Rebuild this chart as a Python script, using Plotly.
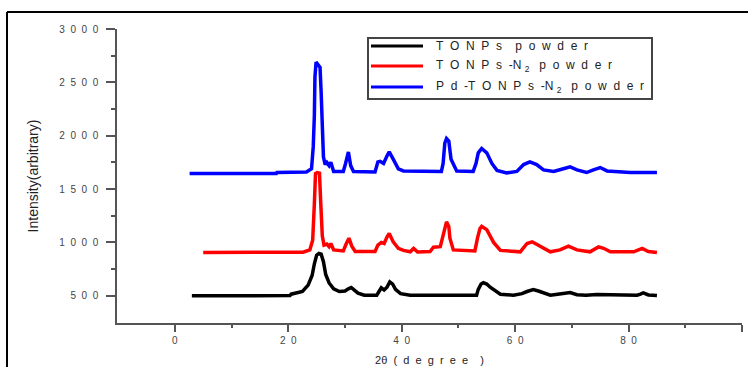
import plotly.graph_objects as go

# ---------------- data ----------------
black_x = [3, 13, 20.3, 20.5, 22.5, 23.5, 24.2, 24.6, 25.0, 25.4, 25.8, 26.2, 26.6, 27.2, 28.0, 29.0,
           30.0, 30.6, 31.1, 31.6, 32.3, 33.4, 35.6, 36.0, 36.4, 36.9, 37.4, 37.9, 38.4, 38.9, 39.8,
           41.5, 53.2, 53.5, 54.0, 54.4, 55.0, 55.6, 56.5, 57.4, 59.7, 61.2, 62.1, 63.2, 64.1, 65.0,
           66.2, 67.5, 68.5, 69.7, 70.9, 72.5, 74.4, 76.4, 77.0, 81.5, 82.1, 82.6, 83.5, 85.0]
black_y = [500, 500, 502, 515, 540, 600, 690, 800, 880, 897, 890, 820, 700, 620, 565, 540,
           545, 565, 578, 555, 525, 505, 505, 540, 575, 555, 580, 630, 610, 560, 520,
           505, 505, 560, 610, 622, 610, 580, 545, 515, 505, 520, 540, 558, 545, 525,
           505, 515, 525, 530, 510, 505, 512, 512, 505, 505, 515, 528, 508, 503]

red_x = [5, 22.6, 23.8, 24.3, 24.6, 24.8, 25.1, 25.5, 25.7, 26.0, 26.3, 26.8, 27.2, 27.5, 28.0,
         29.7, 30.2, 30.7, 31.2, 31.8, 35.3, 35.8, 36.4, 36.9, 37.4, 37.8, 38.5, 39.4, 40.3, 41.5,
         42.1, 42.8, 45.0, 45.6, 46.8, 47.4, 47.9, 48.3, 48.5, 49.1, 52.9, 53.4, 53.8, 54.1, 55.0,
         56.2, 57.4, 60.9, 62.1, 63.0, 64.5, 66.2, 67.9, 69.4, 70.9, 73.2, 74.7, 75.6, 76.8, 80.9,
         82.4, 83.5, 85.0]
red_y = [906, 908, 930, 1020, 1365, 1646, 1655, 1650, 1396, 1060, 975, 985, 960, 990, 930,
         920, 985, 1040, 965, 915, 915, 975, 1000, 990, 1050, 1084, 1005, 945, 925, 912,
         944, 910, 915, 955, 960, 1090, 1193, 1150, 1040, 930, 920, 1050, 1130, 1150, 1120,
         1000, 925, 912, 990, 1006, 960, 912, 930, 965, 930, 912, 958, 945, 912, 912,
         944, 915, 905]

blue_x = [2.6, 17.9, 18.0, 23.2, 24.1, 24.4, 24.6, 24.7, 24.9, 25.3, 25.6, 25.8, 26.0, 26.2, 26.5,
          26.8, 27.2, 27.5, 28.0, 29.7, 30.1, 30.4, 30.6, 31.0, 31.5, 35.3, 35.8, 36.2, 36.8, 37.4,
          37.8, 38.5, 39.4, 40.3, 47.0, 47.3, 47.6, 47.9, 48.3, 48.7, 49.7, 52.6, 53.1, 53.5, 54.1,
          55.0, 55.9, 56.8, 58.5, 60.3, 61.5, 62.6, 63.8, 65.0, 66.8, 68.5, 69.7, 70.9, 72.6, 73.8,
          75.0, 76.2, 79.7, 80.3, 85.0]
blue_y = [1646, 1646, 1656, 1660, 1690, 1895, 2192, 2550, 2690, 2660, 2640, 2400, 2145, 1801, 1730,
          1750, 1720, 1750, 1665, 1665, 1740, 1830, 1848, 1720, 1665, 1660, 1755, 1760, 1740, 1810,
          1848, 1780, 1690, 1670, 1665, 1740, 1930, 1974, 1950, 1780, 1670, 1665, 1740, 1840, 1880,
          1840, 1740, 1675, 1652, 1665, 1730, 1755, 1730, 1680, 1665, 1690, 1708, 1680, 1655, 1680,
          1702, 1670, 1661, 1655, 1655]

series_labels = [["TONPs", "powder"], ["TONPs-N", "₂", "powder"], ["Pd-TONPs-N", "₂", "powder"]]
series_colors = ["#000000", "#FF0000", "#0000FF"]

x_tickvals = [0, 20, 40, 60, 80, 100]
y_tickvals = [500, 1000, 1500, 2000, 2500, 3000]

NB = "\u00a0"


def spaced(v, gap=2):
    return (NB * gap).join(str(v))


def spaced_word(s):
    return spaced(s).replace(NB * 2 + "-" + NB * 2, NB * 2 + "-")


def legend_text(parts):
    if len(parts) == 2:
        return spaced_word(parts[0]) + NB * 4 + spaced_word(parts[1])
    return spaced_word(parts[0]) + NB + "<sub>2</sub>" + NB * 3 + spaced_word(parts[2])


x_ticktext = [spaced(v) for v in x_tickvals]
y_ticktext = [spaced(v) for v in y_tickvals]

# ---------------- figure ----------------
W, H = 748, 367
L, R, T, B = 117, 6, 29, 44
PW, PH = W - L - R, H - T - B


def px(x):
    return (x - L) / PW


def py(y):
    return 1 - (y - T) / PH


fig = go.Figure()
for xs, ys, parts, col in [(black_x, black_y, series_labels[0], series_colors[0]),
                           (red_x, red_y, series_labels[1], series_colors[1]),
                           (blue_x, blue_y, series_labels[2], series_colors[2])]:
    fig.add_trace(go.Scatter(x=xs, y=ys, mode="lines", name="".join(parts),
                             line=dict(color=col, width=3.5), showlegend=False))

axis_col = "#555555"
FONT = "Arial, Liberation Sans, sans-serif"
tick_font = dict(family=FONT, size=10, color="#444444")

fig.update_xaxes(range=[-10.2, 100], showgrid=False, zeroline=False,
                 showline=True, linecolor=axis_col, linewidth=1.5,
                 ticks="outside", ticklen=7, tickwidth=1.5, tickcolor=axis_col,
                 tickvals=x_tickvals, ticktext=x_ticktext, tickfont=tick_font,
                 minor=dict(tickvals=[10, 30, 50, 70, 90], ticks="outside", ticklen=3,
                            tickwidth=1.5, tickcolor=axis_col),
                 title=dict(text="2θ" + NB * 2 + "(" + NB * 2 + spaced("degree") + NB * 4 + ")",
                            font=dict(family=FONT, size=11, color="#222222"),
                            standoff=12))
fig.update_yaxes(range=[245, 3000], showgrid=False, zeroline=False,
                 showline=True, linecolor=axis_col, linewidth=1.5,
                 ticks="outside", ticklen=9, tickwidth=1.5, tickcolor=axis_col,
                 tickvals=y_tickvals, ticktext=y_ticktext, tickfont=tick_font,
                 ticklabelstandoff=6,
                 minor=dict(tickvals=[750, 1250, 1750, 2250, 2750], ticks="outside", ticklen=4,
                            tickwidth=1.5, tickcolor=axis_col),
                 title=dict(text="Intensity(arbitrary)",
                            font=dict(family=FONT, size=14, color="#222222"),
                            standoff=17))

shapes = []
# outer frame (top and left edges visible)
shapes.append(dict(type="line", xref="paper", yref="paper", x0=px(7), x1=px(760), y0=py(12), y1=py(12),
                   line=dict(color="#000000", width=2)))
shapes.append(dict(type="line", xref="paper", yref="paper", x0=px(7), x1=px(7), y0=py(12), y1=py(380),
                   line=dict(color="#000000", width=2)))
# legend box
shapes.append(dict(type="rect", xref="paper", yref="paper", x0=px(368), x1=px(652), y0=py(38), y1=py(99),
                   line=dict(color="#444444", width=2), fillcolor="white", layer="above"))
annotations = []
leg_y = [46, 66, 87]
for i in range(3):
    shapes.append(dict(type="line", xref="paper", yref="paper", x0=px(371), x1=px(423),
                       y0=py(leg_y[i]), y1=py(leg_y[i]), line=dict(color=series_colors[i], width=3),
                       layer="above"))
    annotations.append(dict(xref="paper", yref="paper", x=px(434), y=py(leg_y[i]), xanchor="left",
                            yanchor="middle", showarrow=False, text=legend_text(series_labels[i]),
                            font=dict(family=FONT, size=12, color="#222222")))

fig.update_layout(width=W, height=H, margin=dict(l=L, r=R, t=T, b=B, autoexpand=False),
                  paper_bgcolor="white", plot_bgcolor="white",
                  shapes=shapes, annotations=annotations)

fig.write_html("out.html")
